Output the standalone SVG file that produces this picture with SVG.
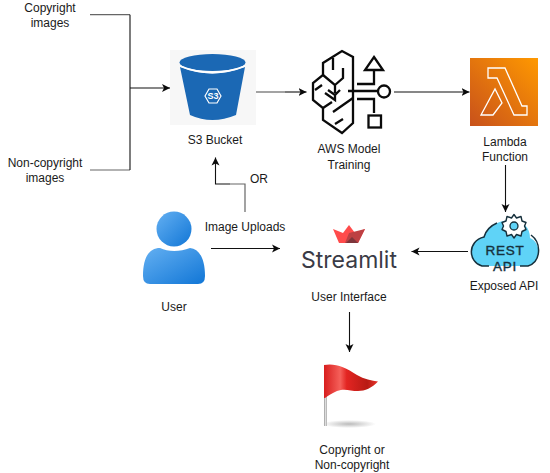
<svg xmlns="http://www.w3.org/2000/svg" width="550" height="473" viewBox="0 0 550 473">
<style>
text{font-family:"Liberation Sans",Arial,sans-serif;font-size:12px;fill:#1a1a1a;text-anchor:middle}
.c{fill:none;stroke:#111;stroke-width:1.1}
.g{fill:none;stroke:#666;stroke-width:1.2}
.b{fill:none;stroke:#0a0a0a;stroke-width:2.3;stroke-linejoin:miter}
.m{font-size:13.500px;letter-spacing:.8px;fill:#16303c;stroke:#16303c;stroke-width:.4px}
</style>
<defs>
<marker id="a" markerUnits="userSpaceOnUse" markerWidth="10" markerHeight="10" refX="8" refY="4.5" orient="auto"><path d="M0 0.5L8 4.5L0 8.5L2 4.5Z" fill="#0a0a0a"/></marker>
<linearGradient id="lam" x1="0" y1="1" x2="1" y2="0"><stop offset="0" stop-color="#c8511b"/><stop offset="1" stop-color="#ff9900"/></linearGradient>
<linearGradient id="usr" x1="0" y1="0" x2="1" y2="1"><stop offset="0" stop-color="#64b0f2"/><stop offset="1" stop-color="#1176d6"/></linearGradient>
<linearGradient id="flag" x1="0" y1="0" x2="1" y2="0"><stop offset="0" stop-color="#d81e1e"/><stop offset=".3" stop-color="#f5605a"/><stop offset=".42" stop-color="#e32522"/><stop offset=".8" stop-color="#b81a14"/><stop offset="1" stop-color="#e8352c"/></linearGradient>
<linearGradient id="pole" x1="0" y1="0" x2="1" y2="0"><stop offset="0" stop-color="#999"/><stop offset=".5" stop-color="#ddd"/><stop offset="1" stop-color="#aaa"/></linearGradient>
<radialGradient id="shadow"><stop offset="0" stop-color="#bbb"/><stop offset="1" stop-color="#fff"/></radialGradient>
</defs>
<rect width="550" height="473" fill="#fff"/>

<g id="connectors">
<path class="g" d="M90 14.7H130"/>
<path class="g" d="M90 170H130"/>
<path class="c" d="M130 14.7V170"/>
<path class="c" d="M130 88H170" marker-end="url(#a)"/>
<path class="g" d="M256 92H285"/>
<path class="c" d="M285 92H306.500" marker-end="url(#a)"/>
<path class="c" d="M394 92H469.500" marker-end="url(#a)"/>
<path class="c" d="M505.500 165V212" marker-end="url(#a)"/>
<path class="c" d="M468 251.500H411.500" marker-end="url(#a)"/>
<path class="g" d="M245 212V184H230"/>
<path class="c" d="M230 184H215.500V157.500" marker-end="url(#a)"/>
<path class="c" d="M211 248.500H280" marker-end="url(#a)"/>
<path class="c" d="M349.500 312V352" marker-end="url(#a)"/>
</g>

<g id="copyright-images"><text x="50" y="12">Copyright</text><text x="50" y="27">images</text></g>
<g id="non-copyright-images"><text x="45" y="167">Non-copyright</text><text x="45" y="182">images</text></g>

<g id="s3-bucket">
<rect x="170" y="50" width="86" height="75" fill="#f7f7f7"/>
<path d="M180 67Q212 80 245 67L236 115Q212 125 190 115Z" fill="#1b68b4"/>
<ellipse cx="212.500" cy="62.500" rx="33" ry="8.500" fill="#1b68b4"/>
<path d="M180 66Q212 79 245 66" fill="none" stroke="#fff" stroke-width="1.800"/>
<path d="M205 96L209 89H217L221 96L217 103H209Z" fill="none" stroke="#fff" stroke-width="1.200"/>
<text x="213" y="99" style="font-size:9px;font-weight:bold;fill:#fff">S3</text>
<text x="215" y="144">S3 Bucket</text>
</g>

<g id="aws-model-training">
<path class="b" d="M323 75V63L342 51L353 57V123L342 133L323 120V108L313 100V83Z"/>
<path class="b" d="M333 58V70M343 68V78L335 85M323 75L335 85V93M315 90L322 85M328 90L335 95L340 90M335 95V100L325 93M323 108L332 102M333 112L353 98M335 124L343 119M348 91H378M357 84H374V70M357 99H374V113"/>
<circle cx="384" cy="91.500" r="6" fill="#fff" stroke="#0a0a0a" stroke-width="2.300"/>
<path class="b" d="M374 57L383 70H365Z"/>
<rect x="368.500" y="115.500" width="12.500" height="12" class="b"/>
<text x="349" y="153">AWS Model</text><text x="349" y="169">Training</text>
</g>

<g id="lambda-function">
<rect x="470" y="58" width="68" height="68" fill="url(#lam)"/>
<path d="M488 68H505L522 106H527V115H514L497 78H488ZM481 115L495 89L502 103L493 115Z" fill="none" stroke="#fff" stroke-width="1.300"/>
<text x="505" y="146">Lambda</text><text x="505" y="161">Function</text>
</g>

<g id="exposed-api">
<path d="M482 266C468 262 467 241 484 237C486 228 496 221 510 220C524 220 530 228 530 238C542 243 541 262 528 266Z" fill="#5fd3f7"/>
<path d="M489 266H482C468 262 467 241 484 237C486 230 490 226 497 223M531 235C542 243 541 262 528 266H520" fill="none" stroke="#16303c" stroke-width="1.500"/>
<path d="M514 214.500L516.500 218L521 216.500L522 221L526 222.500L524.500 226L526 229.500L522 231.500L521 236L516.500 234.500L514 238L511.500 234.500L507 236L506 231.500L502 229.500L503.500 226L502 222.500L506 221L507 216.500L511.500 218Z" fill="#fff" stroke="#16303c" stroke-width="1.400" stroke-linejoin="round"/>
<circle cx="514" cy="226" r="4" fill="#5fd3f7" stroke="#16303c" stroke-width="1.300"/>
<text x="505" y="254.500" class="m">REST</text>
<text x="505" y="270.500" class="m">API</text>
<text x="504" y="290">Exposed API</text>
</g>

<g id="user">
<circle cx="174" cy="229" r="17.500" fill="url(#usr)"/>
<path d="M143 276C143 256 150 248 160 248C168 252 180 252 190 248C199 249 205 258 205 276Q205 284 198 284H150Q143 284 143 276Z" fill="url(#usr)"/>
<text x="174" y="311">User</text>
</g>

<text x="245" y="231">Image Uploads</text>
<text x="259" y="183">OR</text>

<g id="streamlit">
<path d="M333 229L343 233L349 225L355 233L365 229L358 243H339Z" fill="#ff4b4b"/>
<path d="M349 233L365 229L358 243H345Z" fill="#bd4043"/>
<path d="M352 237L358 243H346Z" fill="#7d353b"/>
<text x="349" y="268" style="font-family:Inter,'Liberation Sans',sans-serif;font-size:23px;fill:#3a3b46">Streamlit</text>
<text x="349" y="301">User Interface</text>
</g>

<g id="flag-result">
<ellipse cx="349" cy="424" rx="27" ry="4" fill="url(#shadow)"/>
<rect x="324" y="396" width="3" height="30" fill="url(#pole)"/>
<path d="M324 365C335 363 345 367 357 375C364 379 372 381 378 381.500C372 388 365 391 358 391C350 391 345 388 337 391C332 393 328 396 325 398H324Z" fill="url(#flag)"/>
<text x="352" y="454">Copyright or</text><text x="352" y="469">Non-copyright</text>
</g>
</svg>
